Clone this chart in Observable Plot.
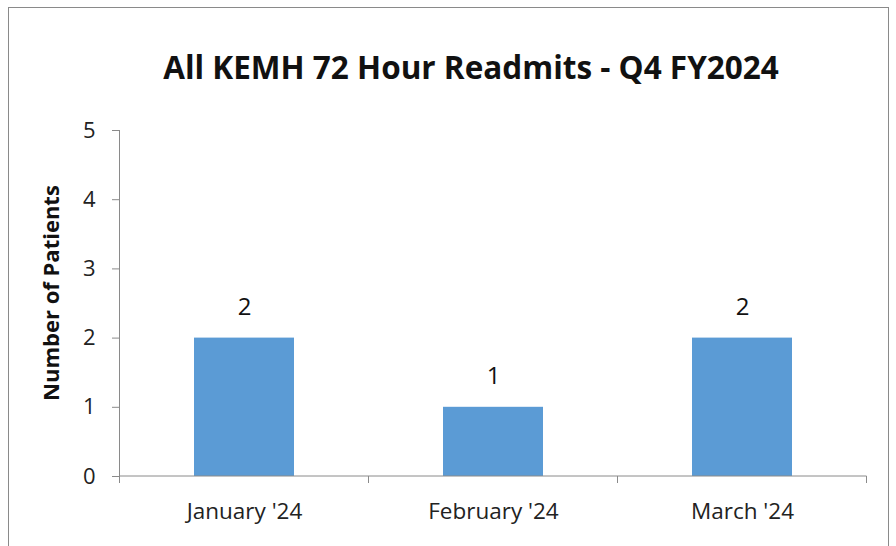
<!DOCTYPE html>
<html>
<head>
<meta charset="utf-8">
<script src="https://cdn.jsdelivr.net/npm/d3@7"></script>
<script src="https://cdn.jsdelivr.net/npm/@observablehq/plot@0.6"></script>
<style>
  html, body { margin: 0; padding: 0; background: #fff; }
  #frame { position: absolute; left: 8px; top: 7px; width: 881px; height: 560px; border: 1px solid #8a8a8a; box-sizing: border-box; }
  #title { position: absolute; left: 0; top: 46px; width: 942px; text-align: center; font-family: "Open Sans", sans-serif; font-weight: bold; font-size: 31.5px; line-height: 42px; color: #111; }
  #chart { position: absolute; left: 0; top: 100px; }
</style>
</head>
<body>
<div id="frame"></div>
<div id="title">All KEMH 72 Hour Readmits - Q4 FY2024</div>
<div id="chart"></div>
<script>
const months = ["January '24", "February '24", "March '24"];
const patients = [2, 1, 2];
const yTicks = [0, 1, 2, 3, 4, 5];
const yLabel = "Number of Patients";

const data = months.map((m, i) => ({month: m, value: patients[i]}));

const axisColor = "#8a8a8a";

// custom mark: y-axis line, x-axis line and category boundary ticks below the x axis
function frameMarks(index, scales, values, dim) {
  const x = scales.x, y = scales.y;
  const bw = x.bandwidth();
  const step = x.step();
  const bounds = months.map(m => x(m) - (step - bw) / 2).concat([x(months[months.length - 1]) + bw + (step - bw) / 2]);
  const left = bounds[0];
  const y0 = y(0), y5 = y(5);
  const g = d3.create("svg:g");
  g.append("line").attr("x1", left).attr("x2", left).attr("y1", y5).attr("y2", y0)
    .attr("stroke", axisColor).attr("stroke-width", 1);
  g.append("line").attr("x1", left).attr("x2", bounds[bounds.length - 1]).attr("y1", y0).attr("y2", y0)
    .attr("stroke", axisColor).attr("stroke-width", 1);
  for (const b of bounds) {
    g.append("line").attr("x1", b).attr("x2", b).attr("y1", y0).attr("y2", y0 + 7)
      .attr("stroke", axisColor).attr("stroke-width", 1);
  }
  return g.node();
}

const plot = Plot.plot({
  width: 896,
  height: 446,
  marginLeft: 119,
  marginRight: 30,
  marginTop: 30,
  marginBottom: 70,
  style: {fontFamily: "'Open Sans', sans-serif", color: "#222", background: "transparent"},
  x: {domain: months, paddingInner: 0.6, paddingOuter: 0.3, label: null},
  y: {domain: [0, 5], label: null},
  marks: [
    Plot.barY(data, {x: "month", y: "value", fill: "#5b9bd5"}),
    frameMarks,
    Plot.axisY({ticks: yTicks, tickSize: 7, tickPadding: 17, stroke: axisColor, fontSize: 22, fill: "#222", label: null, tickFormat: d => d}),
    Plot.axisX({tickSize: 0, tickPadding: 27, fontSize: 22.5, fill: "#222", label: null}),
    Plot.text(data, {x: "month", y: "value", text: d => String(d.value), dy: -31, fontSize: 24, fill: "#111"})
  ]
});
document.getElementById("chart").appendChild(plot);

// rotated y-axis label
const svg = d3.select(plot);
svg.append("text")
  .attr("transform", "translate(53,193) rotate(-90)")
  .attr("text-anchor", "middle")
  .attr("dominant-baseline", "middle")
  .attr("font-family", "'Open Sans', sans-serif")
  .attr("font-weight", "bold")
  .attr("font-size", 22)
  .attr("fill", "#111")
  .text(yLabel);
</script>
</body>
</html>
